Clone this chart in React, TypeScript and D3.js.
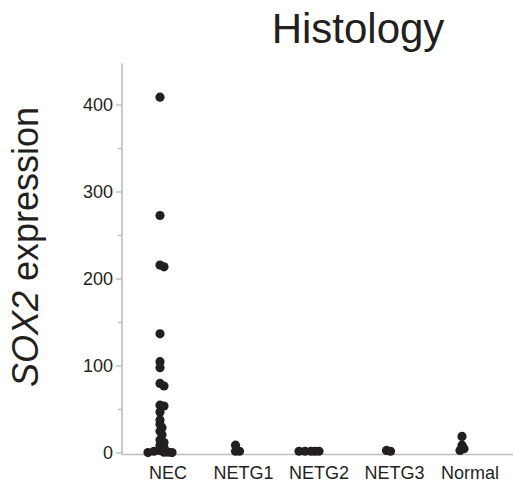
import React, { useEffect, useRef } from "react";
import * as d3 from "d3";

// categories and estimated SOX2 expression values
const categories = ["NEC", "NETG1", "NETG2", "NETG3", "Normal"];
const necValues = [409, 273, 216, 214, 137, 105, 98, 80, 77, 55, 54, 47, 38, 33, 29, 25, 21, 15, 12, 9, 6, 3, 2, 1, 1, 0.5, 0.5];
const netg1Values = [9, 2, 2];
const netg2Values = [2, 2, 2, 2, 2];
const netg3Values = [3, 2];
const normalValues = [19, 9, 5, 3];
const seriesValues = [necValues, netg1Values, netg2Values, netg3Values, normalValues];
const majorTicks = [0, 100, 200, 300, 400];
const minorTicks = [50, 150, 250, 350];

const W = 513;
const H = 487;
const FONT = "'Liberation Sans', Arial, Helvetica, sans-serif";
const INK = "#231f20";
const AXIS = "#bdbdbd";

export default function App() {
  const node = useRef<SVGSVGElement | null>(null);

  useEffect(() => {
    const svg = d3.select(node.current);
    svg.selectAll("*").remove();

    const left = 122;
    const x = d3.scalePoint<string>().domain(categories).range([166, 468]);
    const y = d3.scaleLinear().domain([0, 400]).range([453, 105]);
    const r = 4.6;

    // title
    svg.append("text")
      .attr("x", 358).attr("y", 43)
      .attr("text-anchor", "middle")
      .style("font-family", FONT).style("font-size", "42px")
      .attr("fill", INK)
      .text("Histology");

    // y label
    const yl = svg.append("text")
      .attr("transform", "translate(38," + 247 + ") rotate(-90)")
      .attr("text-anchor", "middle")
      .style("font-family", FONT).style("font-size", "36px")
      .attr("fill", INK);
    yl.append("tspan").style("font-style", "italic").text("SOX2");
    yl.append("tspan").text(" expression");

    // y axis
    const yAxis = svg.append("g").attr("transform", "translate(" + left + ",0)");
    yAxis.append("line")
      .attr("x1", 0).attr("x2", 0)
      .attr("y1", y(448)).attr("y2", y(0) + 1.5)
      .attr("stroke", AXIS).attr("stroke-width", 1.6);
    yAxis.selectAll(".major").data(majorTicks).enter().append("line")
      .attr("x1", -6).attr("x2", 0)
      .attr("y1", d => y(d)).attr("y2", d => y(d))
      .attr("stroke", AXIS).attr("stroke-width", 1.4);
    yAxis.selectAll(".minor").data(minorTicks).enter().append("line")
      .attr("x1", -4).attr("x2", 0)
      .attr("y1", d => y(d)).attr("y2", d => y(d))
      .attr("stroke", AXIS).attr("stroke-width", 1.4);
    yAxis.selectAll(".lab").data(majorTicks).enter().append("text")
      .attr("x", -9).attr("y", d => y(d))
      .attr("dy", "0.35em")
      .attr("text-anchor", "end")
      .style("font-family", FONT).style("font-size", "18px")
      .attr("fill", INK)
      .text(d => d);

    // x axis
    svg.append("line")
      .attr("x1", left).attr("x2", W)
      .attr("y1", y(0) + 1.5).attr("y2", y(0) + 1.5)
      .attr("stroke", AXIS).attr("stroke-width", 1.6);
    svg.selectAll(".xlab").data(categories).enter().append("text")
      .attr("x", d => x(d) as number + 2).attr("y", 479)
      .attr("text-anchor", "middle")
      .style("font-family", FONT).style("font-size", "18px")
      .attr("fill", INK)
      .text(d => d);

    // dots, spread sideways with a simple dodge (mostly to the right)
    const step = 2;
    const minDist = 3.6;
    categories.forEach((cat, i) => {
      const cx = (x(cat) as number) - 6;
      const placed: { x: number; y: number }[] = [];
      const vals = seriesValues[i].slice().sort((a, b) => b - a);
      vals.forEach(v => {
        const py = y(v);
        let k = 0;
        let px = cx;
        while (true) {
          const off = k === 0 ? 0 : (k % 3 === 2 ? -1 : 1) * Math.ceil(k / 2) * step;
          px = cx + off;
          const ok = placed.every(p => Math.hypot(p.x - px, p.y - py) >= minDist);
          if (ok) break;
          k++;
        }
        placed.push({ x: px, y: py });
      });
      svg.append("g").selectAll("circle").data(placed).enter().append("circle")
        .attr("cx", d => d.x).attr("cy", d => d.y)
        .attr("r", r)
        .attr("fill", INK);
    });
  }, []);

  return (
    <svg ref={node} width={W} height={H}
      style={{ position: "absolute", left: 0, top: 0, background: "#fff" }} />
  );
}
